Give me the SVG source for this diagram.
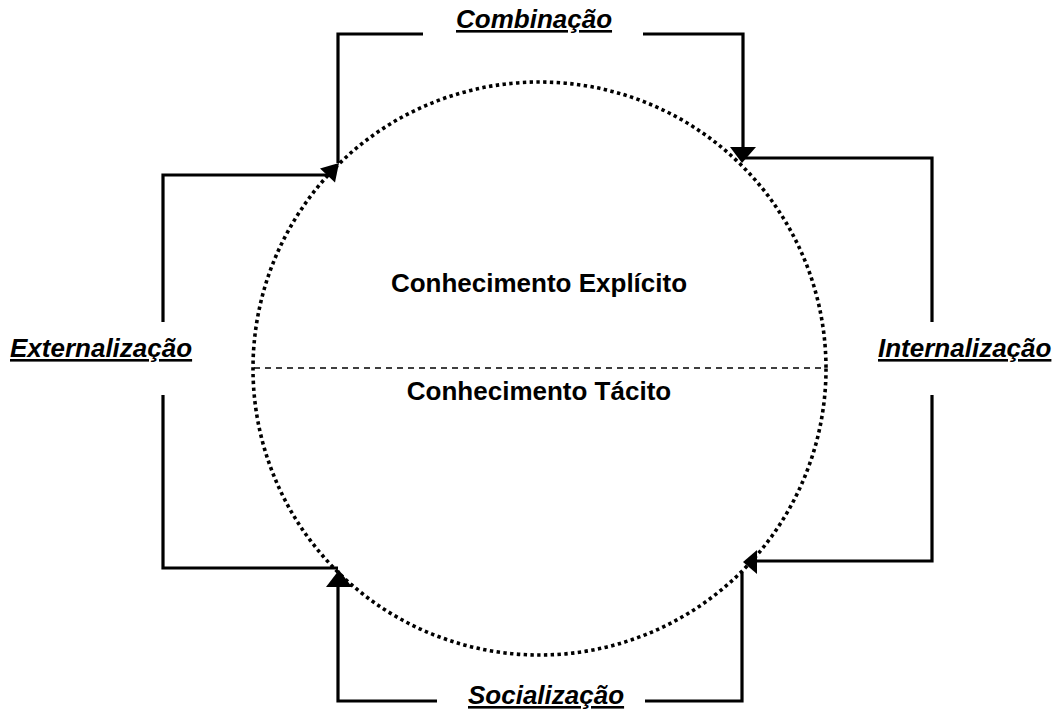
<svg xmlns="http://www.w3.org/2000/svg" width="1061" height="713" viewBox="0 0 1061 713">
<style>
.bg{fill:#fff}
.circ{fill:none;stroke:#000;stroke-width:3.6;stroke-dasharray:3.4 3.4}
.div{fill:none;stroke:#000;stroke-width:1.5;stroke-dasharray:6 5}
.conn{fill:none;stroke:#000;stroke-width:3.2;stroke-linejoin:miter;stroke-linecap:butt}
.head{fill:#000;stroke:none}
.lbl{font-family:"Liberation Sans",Arial,sans-serif;font-size:26px;font-weight:bold;font-style:italic;text-decoration:underline;text-decoration-thickness:3px;text-underline-offset:3px;fill:#000}
.in{font-family:"Liberation Sans",Arial,sans-serif;font-size:26px;font-weight:bold;fill:#000;text-anchor:middle}
</style>
<rect class="bg" x="0" y="0" width="1061" height="713"/>
<g id="circle">
<circle class="circ" cx="539.5" cy="368.5" r="286.5"/>
<line class="div" x1="254" y1="368" x2="825" y2="368"/>
<text class="in" x="539" y="292">Conhecimento Explícito</text>
<text class="in" x="539" y="400">Conhecimento Tácito</text>
</g>
<g id="connectors">
<polyline class="conn" points="338,163 338,34 423,34"/>
<polyline class="conn" points="643,34 743,34 743,148"/>
<polygon class="head" points="730,147 756,147 742,163"/>
<polyline class="conn" points="743,158 932,158 932,322"/>
<polyline class="conn" points="932,395 932,561 756,561"/>
<polygon class="head" points="743,562 757,550 757,574"/>
<polyline class="conn" points="742,572 742,701 645,701"/>
<polyline class="conn" points="437,701 338,701 338,586"/>
<polygon class="head" points="339,570 326,587 352,587"/>
<polyline class="conn" points="338,568 163,568 163,395"/>
<polyline class="conn" points="163,322 163,175 327,175"/>
<polygon class="head" points="339,163 335,182.5 320,168.5"/>
</g>
<g id="combinacao"><text class="lbl" x="456" y="28">Combinação</text></g>
<g id="internalizacao"><text class="lbl" x="878" y="357">Internalização</text></g>
<g id="socializacao"><text class="lbl" x="468" y="704">Socialização</text></g>
<g id="externalizacao"><text class="lbl" x="10" y="357">Externalização</text></g>
</svg>
